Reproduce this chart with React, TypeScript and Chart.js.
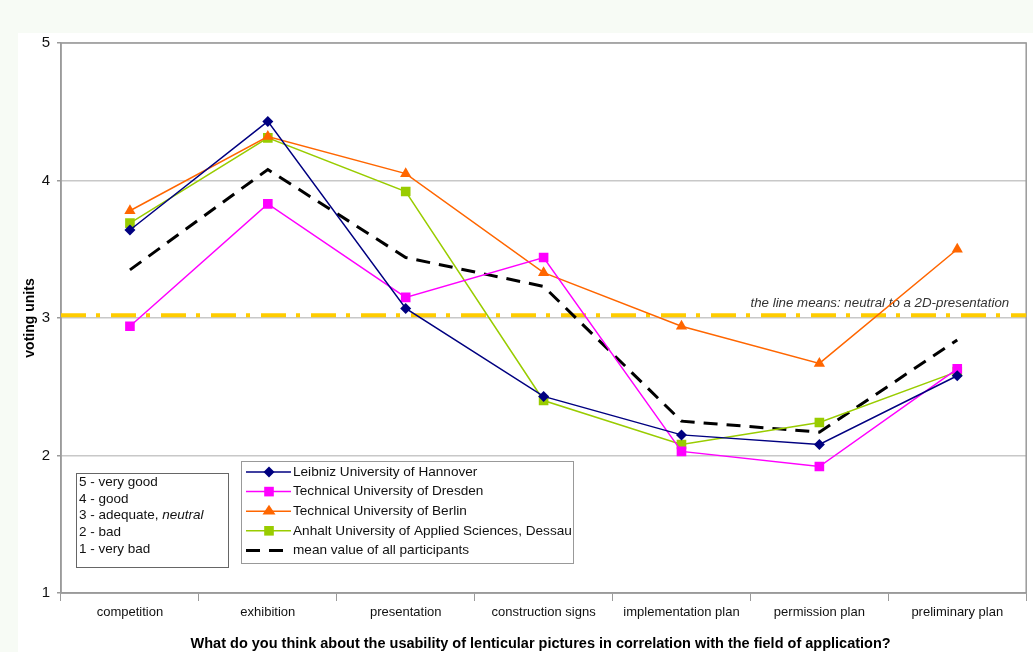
import React, { useEffect, useRef } from "react";
import { Chart, registerables } from "chart.js";

Chart.register(...registerables);

const categories = [
  "competition",
  "exhibition",
  "presentation",
  "construction signs",
  "implementation plan",
  "permission plan",
  "preliminary plan",
];

const leibnizValues = [3.64, 4.43, 3.07, 2.43, 2.15, 2.08, 2.58];
const dresdenValues = [2.94, 3.83, 3.15, 3.44, 2.03, 1.92, 2.63];
const berlinValues = [3.78, 4.32, 4.05, 3.33, 2.94, 2.67, 3.5];
const anhaltValues = [3.69, 4.31, 3.92, 2.4, 2.08, 2.24, 2.61];
const meanValues = [3.35, 4.08, 3.44, 3.23, 2.25, 2.17, 2.84];

const seriesLabels = [
  "Leibniz University of Hannover",
  "Technical University of Dresden",
  "Technical University of Berlin",
  "Anhalt University of Applied Sciences, Dessau",
  "mean value of all participants",
];

const yTicks = [1, 2, 3, 4, 5];
const neutralValue = 3.02;
const neutralLabel = "the line means: neutral to a 2D-presentation";

const scaleLines = [
  ["5 - very good", ""],
  ["4 - good", ""],
  ["3 - adequate, ", "neutral"],
  ["2 - bad", ""],
  ["1 - very bad", ""],
];

const xTitle =
  "What do you think about the usability of lenticular pictures in correlation with the field of application?";
const yTitle = "voting units";

const FONT = "'Liberation Sans', Arial, sans-serif";

function drawMarker(ctx: CanvasRenderingContext2D, style: string, x: number, y: number, r: number) {
  ctx.beginPath();
  if (style === "rectRot") {
    ctx.moveTo(x, y - r);
    ctx.lineTo(x + r, y);
    ctx.lineTo(x, y + r);
    ctx.lineTo(x - r, y);
    ctx.closePath();
  } else if (style === "triangle") {
    const h = (3 * r) / Math.sqrt(3);
    ctx.moveTo(x, y - r);
    ctx.lineTo(x + h / 2 * Math.sqrt(3) / 1.5, y + r / 2);
    ctx.lineTo(x - h / 2 * Math.sqrt(3) / 1.5, y + r / 2);
    ctx.closePath();
  } else {
    const s = Math.SQRT1_2 * r;
    ctx.rect(x - s, y - s, 2 * s, 2 * s);
  }
  ctx.fill();
}

const pageBackground = {
  id: "pageBackground",
  beforeDraw(chart: any) {
    const { ctx, width, height } = chart;
    ctx.save();
    ctx.fillStyle = "#f7fbf5";
    ctx.fillRect(0, 0, width, height);
    ctx.fillStyle = "#ffffff";
    ctx.fillRect(18, 33, width - 18, height - 33);
    ctx.restore();
  },
};

const plotFrame = {
  id: "plotFrame",
  beforeDatasetsDraw(chart: any) {
    const { ctx, chartArea } = chart;
    const yScale = chart.scales.y;
    ctx.save();
    ctx.strokeStyle = "#9a9a9a";
    ctx.lineWidth = 1.5;
    ctx.strokeRect(chartArea.left, chartArea.top, chartArea.right - chartArea.left, chartArea.bottom - chartArea.top);

    // neutral reference line
    const y = yScale.getPixelForValue(neutralValue);
    ctx.strokeStyle = "#ffcc00";
    ctx.lineWidth = 4;
    ctx.setLineDash([25, 10, 4, 11]);
    ctx.beginPath();
    ctx.moveTo(chartArea.left, y);
    ctx.lineTo(chartArea.right, y);
    ctx.stroke();
    ctx.setLineDash([]);

    ctx.fillStyle = "#333333";
    ctx.font = `italic 13.3px ${FONT}`;
    ctx.textAlign = "right";
    ctx.textBaseline = "alphabetic";
    ctx.fillText(neutralLabel, chartArea.right - 17, y - 8);

    // x axis title
    ctx.fillStyle = "#000000";
    ctx.font = `bold 14.5px ${FONT}`;
    ctx.textAlign = "center";
    ctx.textBaseline = "middle";
    ctx.fillText(xTitle, (chartArea.left + chartArea.right) / 2 - 3, 644);
    ctx.restore();
  },
};

const legendBoxes = {
  id: "legendBoxes",
  afterDatasetsDraw(chart: any) {
    const { ctx } = chart;
    ctx.save();

    // rating scale box
    ctx.fillStyle = "#ffffff";
    ctx.fillRect(76, 473, 152, 94);
    ctx.strokeStyle = "#666666";
    ctx.lineWidth = 1;
    ctx.strokeRect(76.5, 473.5, 152, 94);
    ctx.fillStyle = "#111111";
    ctx.textBaseline = "middle";
    ctx.textAlign = "left";
    scaleLines.forEach((line, i) => {
      const ty = 482 + i * 16.8;
      ctx.font = `13.5px ${FONT}`;
      ctx.fillText(line[0], 79, ty);
      if (line[1]) {
        const w = ctx.measureText(line[0]).width;
        ctx.font = `italic 13.5px ${FONT}`;
        ctx.fillText(line[1], 79 + w, ty);
      }
    });

    // series legend box
    ctx.fillStyle = "#ffffff";
    ctx.fillRect(241, 461, 332, 102);
    ctx.strokeStyle = "#999999";
    ctx.strokeRect(241.5, 461.5, 332, 102);
    chart.data.datasets.forEach((ds: any, i: number) => {
      const ly = 472 + i * 19.6;
      ctx.strokeStyle = ds.borderColor;
      ctx.lineWidth = ds.borderWidth;
      ctx.setLineDash(ds.borderDash || []);
      ctx.beginPath();
      ctx.moveTo(246, ly);
      ctx.lineTo(291, ly);
      ctx.stroke();
      ctx.setLineDash([]);
      if (ds.pointRadius > 0) {
        ctx.fillStyle = ds.pointBackgroundColor;
        drawMarker(ctx, ds.pointStyle, 269, ly, ds.pointRadius);
      }
      ctx.fillStyle = "#111111";
      ctx.font = `13.6px ${FONT}`;
      ctx.fillText(seriesLabels[i], 293, ly);
    });
    ctx.restore();
  },
};

export default function App() {
  const canvasRef = useRef<HTMLCanvasElement | null>(null);

  useEffect(() => {
    if (!canvasRef.current) return;
    const line = (label: string, data: number[], color: string, style: string, radius: number) => ({
      label,
      data,
      borderColor: color,
      backgroundColor: color,
      pointBackgroundColor: color,
      pointBorderColor: color,
      pointStyle: style,
      pointRadius: radius,
      pointBorderWidth: 0,
      borderWidth: 1.5,
      tension: 0,
    });
    const chart = new Chart(canvasRef.current, {
      type: "line",
      data: {
        labels: categories,
        datasets: [
          line(seriesLabels[0], leibnizValues, "#000080", "rectRot", 5.5),
          line(seriesLabels[1], dresdenValues, "#ff00ff", "rect", 6.8),
          line(seriesLabels[2], berlinValues, "#ff6600", "triangle", 6.5),
          line(seriesLabels[3], anhaltValues, "#99cc00", "rect", 6.8),
          {
            label: seriesLabels[4],
            data: meanValues,
            borderColor: "#000000",
            backgroundColor: "#000000",
            pointBackgroundColor: "#000000",
            borderWidth: 3,
            borderDash: [14, 9],
            pointRadius: 0,
            tension: 0,
          },
        ],
      },
      options: {
        animation: false,
        responsive: false,
        layout: { padding: { left: 0, top: 43, right: 5, bottom: 0 } },
        plugins: {
          legend: { display: false },
          tooltip: { enabled: false },
        },
        scales: {
          x: {
            offset: true,
            grid: {
              offset: true,
              drawOnChartArea: false,
              color: "#9a9a9a",
              tickLength: 8,
              lineWidth: 1,
            },
            border: { color: "#9a9a9a", width: 1.5 },
            ticks: {
              color: "#111111",
              font: { family: FONT, size: 13 },
              padding: 4,
              maxRotation: 0,
              autoSkip: false,
            },
            afterFit(scale: any) {
              scale.height = 59;
            },
          },
          y: {
            min: 1,
            max: 5,
            afterBuildTicks(scale: any) {
              scale.ticks = yTicks.map((v) => ({ value: v }));
            },
            grid: {
              color: "#c8c8c8",
              lineWidth: 1.5,
              tickLength: 4,
              tickColor: "#9a9a9a",
            },
            border: { color: "#9a9a9a", width: 1.5 },
            ticks: {
              color: "#111111",
              font: { family: FONT, size: 15 },
              padding: 7,
            },
            title: {
              display: true,
              text: yTitle,
              color: "#000000",
              font: { family: FONT, size: 14, weight: "bold" },
              padding: { top: 22, bottom: 0 },
            },
            afterFit(scale: any) {
              scale.width = 61;
            },
          },
        },
      },
      plugins: [pageBackground, plotFrame, legendBoxes],
    } as any);
    return () => chart.destroy();
  }, []);

  return (
    <div style={{ position: "fixed", left: 0, top: 0, width: 1033, height: 652 }}>
      <canvas ref={canvasRef} width={1033} height={652} style={{ display: "block" }} />
    </div>
  );
}
